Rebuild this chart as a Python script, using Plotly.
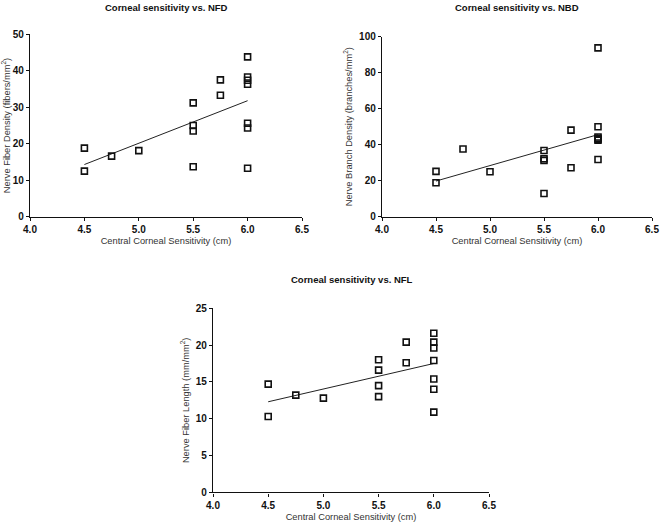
import plotly.graph_objects as go

# ---- data ----
nfd_x = [4.5, 4.5, 4.75, 5.0, 5.5, 5.5, 5.5, 5.5, 5.75, 5.75, 6.0, 6.0, 6.0, 6.0, 6.0, 6.0, 6.0]
nfd_y = [18.8, 12.5, 16.6, 18.1, 31.2, 25.0, 23.5, 13.7, 37.5, 33.3, 43.8, 38.3, 37.4, 36.3, 25.6, 24.3, 13.3]
nfd_fit_x = [4.5, 6.0]
nfd_fit_y = [14.3, 31.8]

nbd_x = [4.5, 4.5, 4.75, 5.0, 5.5, 5.5, 5.5, 5.5, 5.75, 5.75, 6.0, 6.0, 6.0, 6.0, 6.0, 6.0, 6.0]
nbd_y = [25.2, 18.9, 37.6, 25.0, 36.8, 32.2, 31.3, 12.9, 48.1, 27.2, 93.8, 50.0, 44.3, 43.6, 43.0, 42.5, 31.8]
nbd_fit_x = [4.5, 6.0]
nbd_fit_y = [19.8, 45.6]

nfl_x = [4.5, 4.5, 4.75, 5.0, 5.5, 5.5, 5.5, 5.5, 5.75, 5.75, 6.0, 6.0, 6.0, 6.0, 6.0, 6.0, 6.0]
nfl_y = [14.7, 10.3, 13.2, 12.8, 18.0, 16.6, 14.5, 13.0, 20.4, 17.6, 21.6, 20.4, 19.6, 17.9, 15.4, 14.0, 10.9]
nfl_fit_x = [4.5, 6.0]
nfl_fit_y = [12.3, 17.5]

x_ticks = [4.0, 4.5, 5.0, 5.5, 6.0, 6.5]
x_tick_text = ["4.0", "4.5", "5.0", "5.5", "6.0", "6.5"]

titles = ["Corneal sensitivity vs. NFD", "Corneal sensitivity vs. NBD", "Corneal sensitivity vs. NFL"]
x_title = "Central Corneal Sensitivity (cm)"
y_titles = ["Nerve Fiber Density (fibers/mm<sup>2</sup>)",
            "Nerve Branch Density (branches/mm<sup>2</sup>)",
            "Nerve Fiber Length (mm/mm<sup>2</sup>)"]

W, H = 660, 522
FONT = "Liberation Sans, Arial, sans-serif"

fig = go.Figure()

panels = [
    (nfd_x, nfd_y, nfd_fit_x, nfd_fit_y, "x", "y"),
    (nbd_x, nbd_y, nbd_fit_x, nbd_fit_y, "x2", "y2"),
    (nfl_x, nfl_y, nfl_fit_x, nfl_fit_y, "x3", "y3"),
]
for px, py, fx, fy, xa, ya in panels:
    fig.add_trace(go.Scatter(x=fx, y=fy, mode="lines", xaxis=xa, yaxis=ya,
                             line=dict(color="#222", width=1), showlegend=False, hoverinfo="skip"))
    fig.add_trace(go.Scatter(x=px, y=py, mode="markers", xaxis=xa, yaxis=ya,
                             marker=dict(symbol="square-open", size=6, color="#111",
                                         line=dict(width=1.6, color="#111")),
                             showlegend=False))

def px_x(p):
    return p / W

def px_y(p):
    return 1 - p / H

domains = [
    # (x0px, x1px, ytop px, ybottom px)
    (30, 302, 34.3, 216.7),
    (382, 652, 36.7, 216.7),
    (213, 489, 308.3, 492.3),
]
y_ranges = [[0, 50], [0, 100], [0, 25]]
y_dticks = [10, 20, 5]

axis_common = dict(
    showgrid=False, zeroline=False, showline=True, linecolor="#111", linewidth=1.4,
    ticks="outside", ticklen=3, tickwidth=1.3, tickcolor="#111", automargin=False,
    tickfont=dict(family=FONT, size=10, color="#111", weight="bold"),
)

layout = dict(width=W, height=H, plot_bgcolor="white", paper_bgcolor="white",
              margin=dict(l=0, r=0, t=0, b=0), annotations=[])

for i, (x0, x1, yt, yb) in enumerate(domains):
    sfx = "" if i == 0 else str(i + 1)
    layout["xaxis" + sfx] = dict(
        axis_common, domain=[px_x(x0), px_x(x1)], range=[4.0, 6.5],
        tickvals=x_ticks, ticktext=x_tick_text,
        anchor="y" + sfx,
        title=dict(text=x_title, font=dict(family=FONT, size=9.3, color="#333"), standoff=3),
    )
    layout["yaxis" + sfx] = dict(
        axis_common, domain=[px_y(yb), px_y(yt)], range=y_ranges[i], dtick=y_dticks[i],
        anchor="x" + sfx,
        title=dict(text=y_titles[i], font=dict(family=FONT, size=9.3, color="#333"), standoff=4),
    )

title_pos = [(166, 7), (517, 7), (352, 279)]
for (cx, cy), t in zip(title_pos, titles):
    layout["annotations"].append(dict(
        text="<b>" + t + "</b>", x=px_x(cx), y=px_y(cy), xref="paper", yref="paper",
        xanchor="center", yanchor="middle", showarrow=False,
        font=dict(family=FONT, size=9.5, color="#111")))

fig.update_layout(**layout)
fig.write_html("out.html", config={"displayModeBar": False},
               post_script="document.body.style.margin='0';")
